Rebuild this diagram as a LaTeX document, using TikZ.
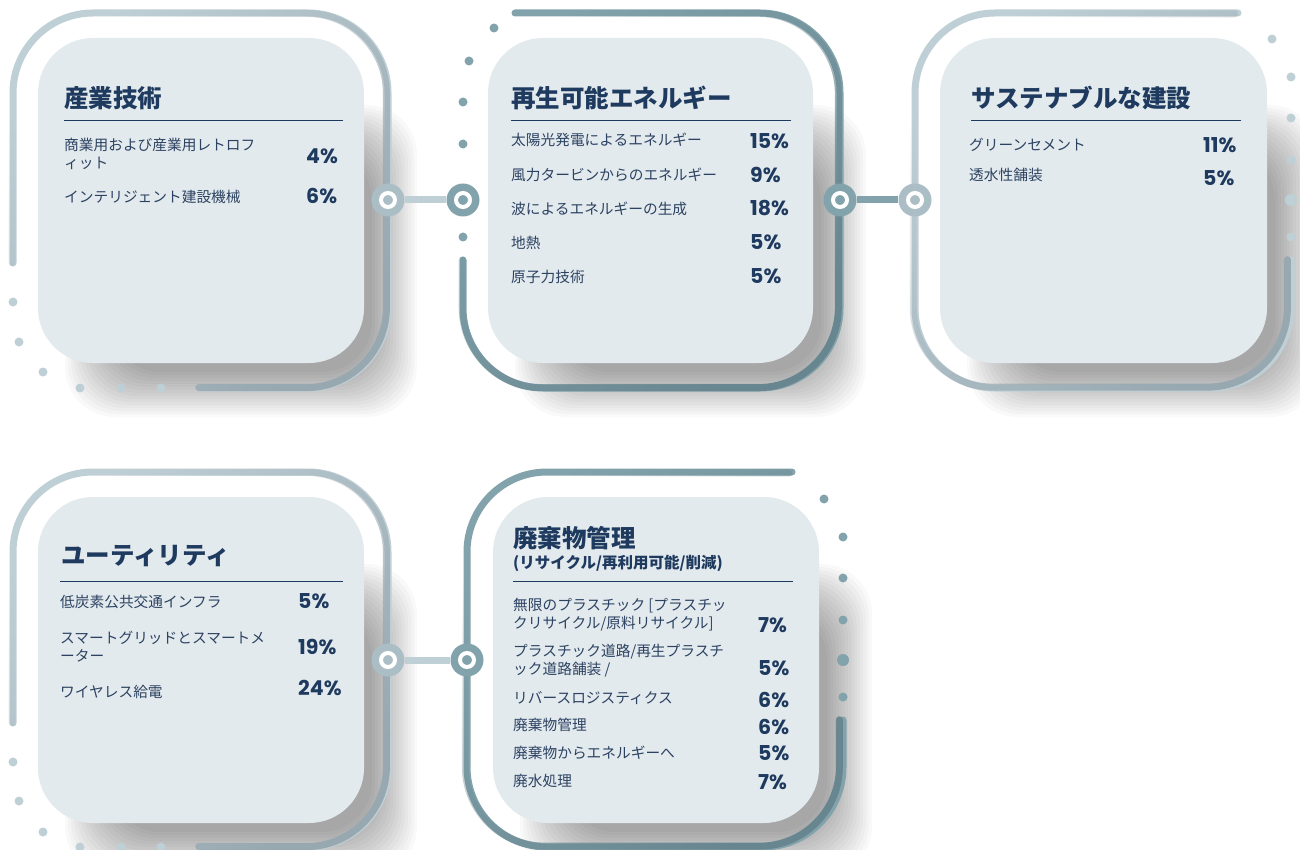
\documentclass[tikz,border=0pt]{standalone}
\usepackage{fontspec}
\setmainfont{Noto Sans CJK JP}
\newfontfamily\pctfont{Poppins}
\usetikzlibrary{fadings}
\definecolor{cardbg}{HTML}{E3EAED}
\definecolor{frlight}{HTML}{BFCFD6}
\definecolor{frlightdk}{HTML}{97A8B0}
\definecolor{frdark}{HTML}{82A3AC}
\definecolor{frdarkdk}{HTML}{688690}
\definecolor{ringlight}{HTML}{ABBEC6}
\definecolor{navy}{HTML}{1F3A5F}
\definecolor{itemtxt}{HTML}{2C4262}
\tikzfading[name=fadebr, left color=transparent!100, right color=transparent!0]
\newcommand{\mysoftshadow}[4]{%
  \foreach \k in {0,...,15}{%
    \fill[black, opacity=0.024, rounded corners=50pt] (#1-\k*3,#2-\k*3) rectangle (#3+\k*3,#4+\k*3);}}
\begin{document}
\begin{tikzpicture}[x=1pt,y=-1pt,
  cardfill/.style={fill=cardbg, rounded corners=55pt},
  frameL/.style={draw=frlight, line width=7pt, line cap=round, rounded corners=80pt},
  frameD/.style={draw=frdark, line width=7pt, line cap=round, rounded corners=80pt},
  frameLdk/.style={draw=frlightdk, line width=7pt, line cap=round, rounded corners=80pt, path fading=fadebr, fit fading=true, fading angle=-45},
  frameDdk/.style={draw=frdarkdk, line width=7pt, line cap=round, rounded corners=80pt, path fading=fadebr, fit fading=true, fading angle=-45},
  connL/.style={draw=frlight, line width=7pt},
  connD/.style={draw=frdark, line width=7pt},
  dotL/.style={fill=frlight},
  dotD/.style={fill=frdark},
  ringbase/.style={circle, minimum size=33pt, inner sep=0pt,
    path picture={\draw[white, line width=4pt] (path picture bounding box.center) circle (7pt);}},
  ringL/.style={ringbase, fill=ringlight},
  ringD/.style={ringbase, fill=frdark},
  ttl/.style={anchor=west, inner sep=0pt, text=navy, font=\fontsize{24.5}{28}\selectfont\bfseries},
  subttl/.style={anchor=west, inner sep=0pt, text=navy, font=\fontsize{15.5}{18}\selectfont\bfseries},
  item/.style={anchor=west, inner sep=0pt, align=left, text=itemtxt, font=\fontsize{14.7}{18}\selectfont},
  pct/.style={anchor=west, inner sep=0pt, text=navy, font=\pctfont\bfseries\fontsize{20.5}{22}\selectfont},
  rulel/.style={draw=navy, line width=1pt}
]
\useasboundingbox (0,0) rectangle (1300,850);
\fill[white] (0,0) rectangle (1300,850);

% ---------- soft shadows ----------
\mysoftshadow{110}{150}{372}{372}
\mysoftshadow{560}{150}{821}{372}
\mysoftshadow{1012}{150}{1275}{372}
\mysoftshadow{110}{609}{372}{832}
\mysoftshadow{565}{609}{827}{832}

% ---------- frames ----------
\draw[frameL] (13,263) -- (13,13) -- (388,13) -- (388,388) -- (200,388);
\draw[frameLdk] (13,263) -- (13,13) -- (388,13) -- (388,388) -- (200,388);
\draw[frameD] (515,13) -- (840,13) -- (840,388) -- (463,388) -- (463,260);
\draw[frameDdk] (515,13) -- (840,13) -- (840,388) -- (463,388) -- (463,260);
\draw[frameL] (1238,13) -- (915,13) -- (915,388) -- (1291,388) -- (1291,260);
\draw[frameLdk] (1238,13) -- (915,13) -- (915,388) -- (1291,388) -- (1291,260);
\draw[frameL] (13,723) -- (13,472) -- (388,472) -- (388,847) -- (200,847);
\draw[frameLdk] (13,723) -- (13,472) -- (388,472) -- (388,847) -- (200,847);
\draw[frameD] (792,472) -- (467,472) -- (467,847) -- (843,847) -- (843,720);
\draw[frameDdk] (792,472) -- (467,472) -- (467,847) -- (843,847) -- (843,720);

% ---------- dots ----------
\foreach \p in {(13,302),(19,342),(43,372),(80,388),(121,388),(161,388),
                (13,762),(19,801),(43,832),(80,847),(121,847),(161,847),
                (1272,39),(1291,77),(1291,118),(1291,160),(1291,237)}
  \fill[dotL] \p circle (4.5pt);
\fill[dotL] (1291,200) circle (6pt);
\foreach \p in {(494,28),(469,61),(463,102),(463,144),(463,237),
                (824,499),(843,537),(843,578),(843,620),(843,697)}
  \fill[dotD] \p circle (4.5pt);
\fill[dotD] (843,660) circle (6pt);

% ---------- cards ----------
\fill[cardfill] (38,38) rectangle (364,363);
\fill[cardfill] (488,38) rectangle (813,363);
\fill[cardfill] (940,38) rectangle (1267,363);
\fill[cardfill] (38,497) rectangle (364,823);
\fill[cardfill] (493,497) rectangle (819,823);

% ---------- connectors and rings ----------
\node[ringL] (r1) at (388,200) {};
\node[ringD] (r2) at (463,200) {};
\node[ringD] (r3) at (840,200) {};
\node[ringL] (r4) at (915,200) {};
\node[ringL] (r5) at (388,660) {};
\node[ringD] (r6) at (467,660) {};
\draw[connL] (r1) -- (r2);
\draw[connD] (r3) -- (r4);
\draw[connL] (r5) -- (r6);

% ---------- card 1 ----------
\node[ttl] (t1) at (64,98) {産業技術};
\draw[rulel] (64,121) -- (343,121);
\node[item] (i11) at (64,154) {商業用および産業用レトロフ\\ィット};
\node[pct] (p11) at (306,156) {4\%};
\node[item] (i12) at (64,197) {インテリジェント建設機械};
\node[pct] (p12) at (306,196) {6\%};

% ---------- card 2 ----------
\node[ttl] (t2) at (511,98) {再生可能エネルギー};
\draw[rulel] (511,121) -- (791,121);
\node[item] (i21) at (511,140) {太陽光発電によるエネルギー};
\node[pct] (p21) at (750,141) {15\%};
\node[item] (i22) at (511,175) {風力タービンからのエネルギー};
\node[pct] (p22) at (750,175) {9\%};
\node[item] (i23) at (511,209) {波によるエネルギーの生成};
\node[pct] (p23) at (750,208) {18\%};
\node[item] (i24) at (511,243) {地熱};
\node[pct] (p24) at (750,242) {5\%};
\node[item] (i25) at (511,277) {原子力技術};
\node[pct] (p25) at (750,276) {5\%};

% ---------- card 3 ----------
\node[ttl] (t3) at (971,98) {サステナブルな建設};
\draw[rulel] (971,121) -- (1241,121);
\node[item] (i31) at (969,145) {グリーンセメント};
\node[pct] (p31) at (1203,145) {11\%};
\node[item] (i32) at (969,175) {透水性舗装};
\node[pct] (p32) at (1203,178) {5\%};

% ---------- card 4 ----------
\node[ttl] (t4) at (61,556) {ユーティリティ};
\draw[rulel] (60,581) -- (343,581);
\node[item] (i41) at (60,602) {低炭素公共交通インフラ};
\node[pct] (p41) at (298,601) {5\%};
\node[item] (i42) at (60,647) {スマートグリッドとスマートメ\\ーター};
\node[pct] (p42) at (298,647) {19\%};
\node[item] (i43) at (60,692) {ワイヤレス給電};
\node[pct] (p43) at (298,688) {24\%};

% ---------- card 5 ----------
\node[ttl] (t5) at (513,538) {廃棄物管理};
\node[subttl] (s5) at (513,563) {(リサイクル/再利用可能/削減)};
\draw[rulel] (513,581) -- (793,581);
\node[item] (i51) at (513,615) {無限のプラスチック [プラスチッ\\クリサイクル/原料リサイクル]};
\node[pct] (p51) at (758,625) {7\%};
\node[item] (i52) at (513,661) {プラスチック道路/再生プラスチ\\ック道路舗装 /};
\node[pct] (p52) at (758,668) {5\%};
\node[item] (i53) at (513,698) {リバースロジスティクス};
\node[pct] (p53) at (758,700) {6\%};
\node[item] (i54) at (513,725) {廃棄物管理};
\node[pct] (p54) at (758,727) {6\%};
\node[item] (i55) at (513,753) {廃棄物からエネルギーへ};
\node[pct] (p55) at (758,753) {5\%};
\node[item] (i56) at (513,781) {廃水処理};
\node[pct] (p56) at (758,782) {7\%};
\end{tikzpicture}
\end{document}
